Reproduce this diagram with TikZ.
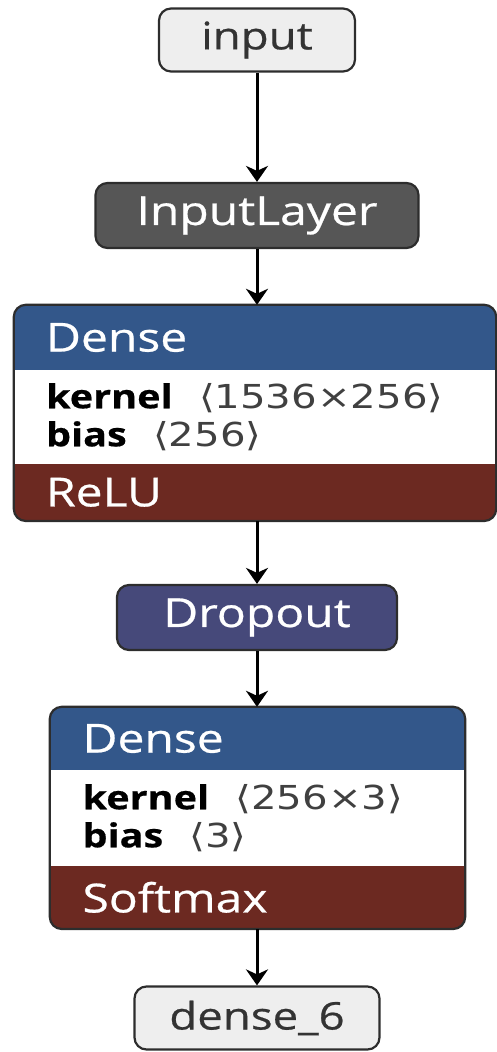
\documentclass[tikz,border=0pt]{standalone}
\usepackage{fontspec}
\setmainfont{Open Sans}[FakeStretch=1.2,UprightFeatures={FakeBold=0.6},BoldFeatures={FakeBold=0.5}]
\newfontfamily\symfont{DejaVu Sans}[FakeStretch=1.22]
\usetikzlibrary{arrows.meta,positioning,calc}
\definecolor{iogray}{RGB}{238,238,238}
\definecolor{edgegray}{RGB}{45,45,45}
\definecolor{layergray}{RGB}{86,86,86}
\definecolor{denseblue}{RGB}{51,87,138}
\definecolor{actred}{RGB}{108,41,33}
\definecolor{dropblue}{RGB}{70,73,122}
\pgfdeclarelayer{back}
\pgfsetlayers{back,main}
\newcommand{\dims}[1]{{\color{black!75}\symfont ⟨#1⟩}}

\begin{document}
\begin{tikzpicture}[x=1pt,y=1pt,
  iobox/.style={draw=edgegray,line width=2.2pt,fill=iogray,rounded corners=12pt,text=black!80,font=\fontsize{38}{42}\selectfont,minimum height=63pt},
  layerbox/.style={draw=edgegray,line width=2.2pt,rounded corners=12pt,text=white,font=\fontsize{40}{44}\selectfont,minimum height=65pt},
  part/.style={inner xsep=32pt,inner ysep=0pt,align=left,text=white,font=\fontsize{40}{44}\selectfont},
  params/.style={part,text=black,font=\fontsize{33}{38}\selectfont},
  flow/.style={-{Stealth[length=16pt,width=22pt,inset=5pt]},line width=3pt}]
\useasboundingbox (0,0) rectangle (497,-1052);
\node[iobox,minimum width=196pt] (input) at (257,-40) {input};
\node[layerbox,fill=layergray,minimum width=323pt] (inputlayer) at (257,-215.5) {InputLayer};
% first dense block
\node[part,text width=418pt,minimum height=65pt] (dense1) at (255,-337.5) {Dense};
\node[params,text width=418pt,minimum height=93pt,below=0pt of dense1] (dense1p) {\textbf{kernel}\hspace{0.8em}\dims{1536×256}\\\textbf{bias}\hspace{0.8em}\dims{256}};
\node[part,text width=418pt,minimum height=57pt,below=0pt of dense1p] (relu) {ReLU};
\node[layerbox,fill=dropblue,minimum width=280pt] (dropout) at (257,-617.5) {Dropout};
% second dense block
\node[part,text width=350pt,inner xsep=32.5pt,minimum height=63pt] (dense2) at (257.5,-738.5) {Dense};
\node[params,text width=350pt,inner xsep=32.5pt,minimum height=95pt,below=0pt of dense2] (dense2p) {\textbf{kernel}\hspace{0.8em}\dims{256×3}\\\textbf{bias}\hspace{0.8em}\dims{3}};
\node[part,text width=350pt,inner xsep=32.5pt,minimum height=63pt,below=0pt of dense2p] (softmax) {Softmax};
\node[iobox,minimum width=245pt] (dense6) at (257,-1018) {dense\_6};
\foreach \h/\p/\a in {dense1/dense1p/relu,dense2/dense2p/softmax}{
  \begin{pgfonlayer}{back}
  \begin{scope}
  \clip[rounded corners=12pt] (\h.north west) rectangle (\a.south east);
  \fill[denseblue] (\h.north west) rectangle (\h.south east);
  \fill[white] (\p.north west) rectangle (\p.south east);
  \fill[actred] (\a.north west) rectangle (\a.south east);
  \end{scope}
  \end{pgfonlayer}
  \draw[edgegray,line width=2.2pt,rounded corners=12pt] (\h.north west) rectangle (\a.south east);
}
\draw[flow] (input) -- (inputlayer);
\draw[flow] (inputlayer.south) -- (inputlayer.south |- dense1.north);
\draw[flow] (dropout.north |- relu.south) -- (dropout);
\draw[flow] (dropout) -- (dropout.south |- dense2.north);
\draw[flow] (dense6.north |- softmax.south) -- (dense6);
\end{tikzpicture}
\end{document}
